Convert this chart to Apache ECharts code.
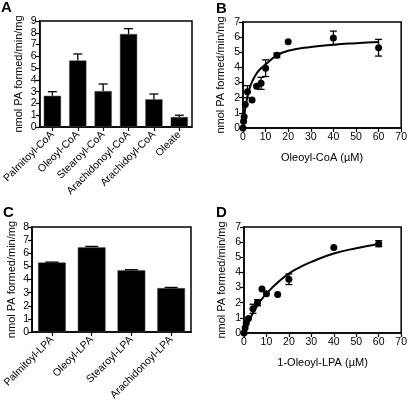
<!DOCTYPE html>
<html><head><meta charset="utf-8">
<script src="https://cdn.jsdelivr.net/npm/echarts@6/dist/echarts.min.js"></script>
<style>html,body{margin:0;padding:0;background:#fff}#c{width:410px;height:403px}</style>
</head><body><div id="c"></div>
<script>
// Panel A
const catsA = ['Palmitoyl-CoA','Oleoyl-CoA','Stearoyl-CoA','Arachidonoyl-CoA','Arachidoyl-CoA','Oleate'];
const valsA = [2.65, 5.65, 3.05, 7.9, 2.35, 0.85];
const errA  = [0.35, 0.55, 0.6, 0.45, 0.45, 0.15];
// Panel C
const catsC = ['Palmitoyl-LPA','Oleoyl-LPA','Stearoyl-LPA','Arachidonoyl-LPA'];
const valsC = [5.3, 6.45, 4.7, 3.35];
const errC  = [0.03, 0.07, 0.05, 0.05];
// Panel B points
const xB   = [0, 0.25, 0.5, 1, 2, 4, 6, 8, 10, 15, 20, 40, 60];
const yB   = [0, 0.45, 0.75, 1.55, 2.4, 1.85, 2.75, 2.95, 3.95, 4.8, 5.7, 5.95, 5.3];
const eB   = [0, 0, 0, 0, 0.4, 0, 0, 0.4, 0.55, 0.15, 0, 0.45, 0.55];
// Panel B fitted curve
const xBc  = [0, 0.5, 1, 2, 3, 4, 6, 8, 10, 15, 20, 30, 40, 50, 60];
const yBc  = [0, 0.7, 1.3, 2.1, 2.65, 3.05, 3.6, 3.95, 4.2, 4.8, 5.1, 5.35, 5.5, 5.6, 5.68];
// Panel D points
const xD   = [0, 0.5, 1, 2, 4, 6, 8, 10, 15, 20, 40, 60];
const yD   = [0, 0.35, 0.65, 0.95, 1.6, 2.0, 2.9, 2.6, 2.55, 3.55, 5.65, 5.9];
const eD   = [0, 0, 0, 0, 0.3, 0.2, 0, 0, 0, 0.35, 0, 0.2];
// Panel D fitted curve
const xDc  = [0, 1, 2, 4, 6, 8, 10, 15, 20, 25, 30, 40, 50, 60];
const yDc  = [0, 0.37, 0.72, 1.32, 1.82, 2.25, 2.6, 3.33, 3.92, 4.35, 4.7, 5.25, 5.6, 5.87];
// axis labels
const yName = 'nmol PA formed/min/mg';
const xNameB = 'Oleoyl-CoA (µM)';
const xNameD = '1-Oleoyl-LPA (µM)';

const FONT = 'Liberation Sans, Arial, sans-serif';
const chart = echarts.init(document.getElementById('c'), null, {renderer:'canvas'});

const gridBox = {show:true, borderColor:'#000', borderWidth:1.5, backgroundColor:'transparent'};
const grids = [
  Object.assign({left:32, top:21, width:160, height:106}, gridBox),
  Object.assign({left:243, top:22, width:159, height:106}, gridBox),
  Object.assign({left:31, top:227, width:160, height:108}, gridBox),
  Object.assign({left:244, top:227, width:158, height:106}, gridBox)
];
const axLine = {show:true, lineStyle:{color:'#000', width:1.5}};
const axTick = {show:true, length:4, lineStyle:{color:'#000', width:1.2}};
const lbl = {color:'#000', fontSize:10.5, fontFamily:FONT};

function yAxis(gi, max){
  return {type:'value', gridIndex:gi, min:0, max:max, interval:1,
    axisLine:axLine, axisTick:axTick, splitLine:{show:false},
    axisLabel:Object.assign({margin:3}, lbl),
    name:yName, nameLocation:'middle', nameGap:gi%2 ? 17 : 15,
    nameTextStyle:{color:'#000', fontSize:11, fontFamily:FONT}};
}
function catAxis(gi, cats){
  return {type:'category', gridIndex:gi, data:cats,
    axisLine:axLine, axisTick:Object.assign({alignWithLabel:true}, axTick),
    axisLabel:Object.assign({rotate:45, margin:6, interval:0}, lbl)};
}
function valX(gi, name){
  return {type:'value', gridIndex:gi, min:0, max:70, interval:10,
    axisLine:axLine, axisTick:axTick, splitLine:{show:false},
    axisLabel:Object.assign({margin:4}, lbl),
    name:name, nameLocation:'middle', nameGap:24,
    nameTextStyle:{color:'#000', fontSize:11, fontFamily:FONT}};
}

function errRender(cap, upperOnly){
  return function(params, api){
    const x = api.value(0), y = api.value(1), e = api.value(2);
    if (!e) return;
    const top = api.coord([x, y + e]);
    const bot = api.coord([x, upperOnly ? y : y - e]);
    const st = {stroke:'#000', lineWidth:1.3};
    const ch = [
      {type:'line', shape:{x1:top[0], y1:top[1], x2:bot[0], y2:bot[1]}, style:st},
      {type:'line', shape:{x1:top[0]-cap/2, y1:top[1], x2:top[0]+cap/2, y2:top[1]}, style:st}
    ];
    if (!upperOnly) ch.push({type:'line', shape:{x1:bot[0]-cap/2, y1:bot[1], x2:bot[0]+cap/2, y2:bot[1]}, style:st});
    return {type:'group', children:ch};
  };
}

const option = {
  animation:false,
  textStyle:{fontFamily:FONT},
  graphic:[
    {type:'text', left:1, top:0, style:{text:'A', font:'bold 15px '+FONT, fill:'#000'}},
    {type:'text', left:216, top:1, style:{text:'B', font:'bold 15px '+FONT, fill:'#000'}},
    {type:'text', left:3, top:205, style:{text:'C', font:'bold 15px '+FONT, fill:'#000'}},
    {type:'text', left:216, top:205, style:{text:'D', font:'bold 15px '+FONT, fill:'#000'}}
  ],
  grid:grids,
  xAxis:[catAxis(0, catsA), valX(1, xNameB), catAxis(2, catsC), valX(3, xNameD)],
  yAxis:[yAxis(0,9), yAxis(1,7), yAxis(2,8), yAxis(3,7)],
  series:[
    {type:'bar', xAxisIndex:0, yAxisIndex:0, data:valsA, barWidth:'68%',
      itemStyle:{color:'#000', borderColor:'#555', borderWidth:0.5}},
    {type:'custom', xAxisIndex:0, yAxisIndex:0, renderItem:errRender(9, true),
      data:valsA.map((v,i)=>[i, v, errA[i]]), z:5},
    {type:'bar', xAxisIndex:2, yAxisIndex:2, data:valsC, barWidth:'70%',
      itemStyle:{color:'#000', borderColor:'#555', borderWidth:0.5}},
    {type:'custom', xAxisIndex:2, yAxisIndex:2, renderItem:errRender(13, true),
      data:valsC.map((v,i)=>[i, v, errC[i]]), z:5},
    {type:'line', xAxisIndex:1, yAxisIndex:1, data:xBc.map((x,i)=>[x, yBc[i]]),
      smooth:true, showSymbol:false, lineStyle:{color:'#000', width:2}},
    {type:'scatter', xAxisIndex:1, yAxisIndex:1, data:xB.map((x,i)=>[x, yB[i]]),
      symbolSize:7, itemStyle:{color:'#000', opacity:1}, z:4},
    {type:'custom', xAxisIndex:1, yAxisIndex:1, renderItem:errRender(7, false),
      data:xB.map((x,i)=>[x, yB[i], eB[i]]), z:5},
    {type:'line', xAxisIndex:3, yAxisIndex:3, data:xDc.map((x,i)=>[x, yDc[i]]),
      smooth:true, showSymbol:false, lineStyle:{color:'#000', width:2}},
    {type:'scatter', xAxisIndex:3, yAxisIndex:3, data:xD.map((x,i)=>[x, yD[i]]),
      symbolSize:7, itemStyle:{color:'#000', opacity:1}, z:4},
    {type:'custom', xAxisIndex:3, yAxisIndex:3, renderItem:errRender(7, false),
      data:xD.map((x,i)=>[x, yD[i], eD[i]]), z:5}
  ]
};
chart.setOption(option);
</script></body></html>
